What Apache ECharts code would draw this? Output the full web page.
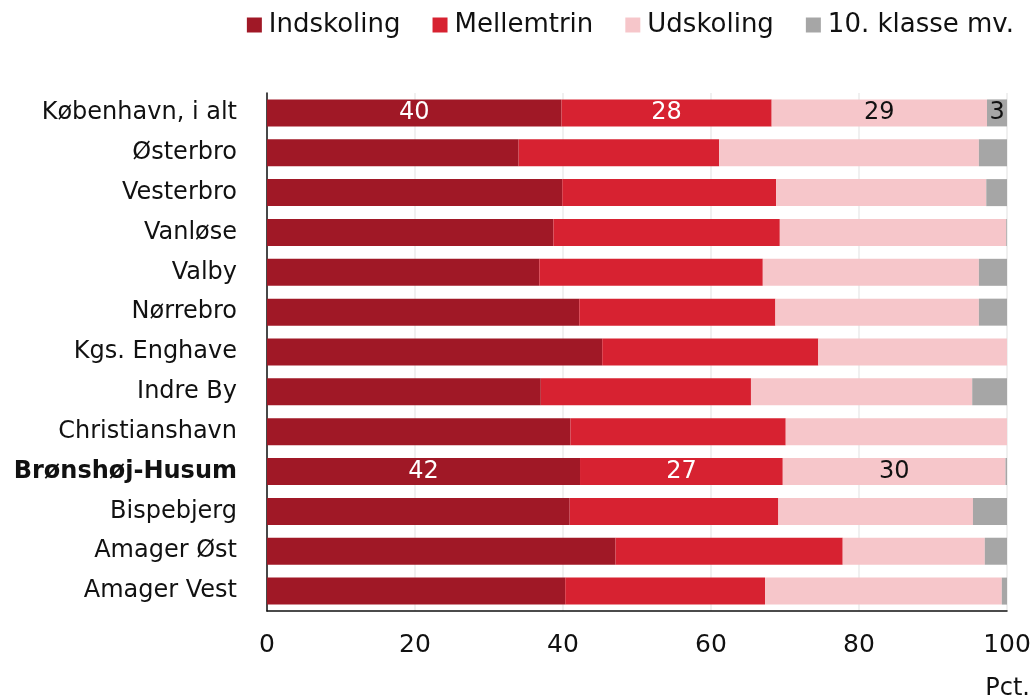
<!DOCTYPE html>
<html>
<head>
<meta charset="utf-8">
<script src="https://cdn.jsdelivr.net/npm/echarts@6/dist/echarts.min.js"></script>
<style>
  html, body { margin: 0; padding: 0; background: #fff; }
  #chart { width: 1036px; height: 700px; }
</style>
</head>
<body>
<div id="chart"></div>
<script>
// Districts, top to bottom
const districts = [
  'København, i alt', 'Østerbro', 'Vesterbro', 'Vanløse', 'Valby', 'Nørrebro',
  'Kgs. Enghave', 'Indre By', 'Christianshavn', 'Brønshøj-Husum', 'Bispebjerg',
  'Amager Øst', 'Amager Vest'
];

// Share of pupils by school stage (pct.)
const indskoling  = [39.8, 34.0, 39.9, 38.7, 36.8, 42.2, 45.3, 37.0, 41.0, 42.3, 40.9, 47.1, 40.3];
const mellemtrin  = [28.4, 27.1, 28.9, 30.6, 30.2, 26.5, 29.2, 28.4, 29.1, 27.4, 28.2, 30.7, 27.0];
const udskoling   = [29.1, 35.1, 28.4, 30.6, 29.2, 27.5, 25.5, 29.9, 29.9, 30.1, 26.3, 19.2, 32.0];
const klasse10    = [2.7, 3.8, 2.8, 0.1, 3.8, 3.8, 0.0, 4.7, 0.0, 0.2, 4.6, 3.0, 0.7];

const seriesNames = ['Indskoling', 'Mellemtrin', 'Udskoling', '10. klasse mv.'];
const xTicks = [0, 20, 40, 60, 80, 100];

// Rows whose values are printed on the bars
const labelledRows = ['København, i alt', 'Brønshøj-Husum'];
const highlighted = 'Brønshøj-Husum';

const FONT = '"DejaVu Sans", sans-serif';

function buildData(values, labelColor) {
  return values.map((v, i) => {
    const show = labelledRows.includes(districts[i]) && Math.round(v) > 0;
    return {
      value: v,
      label: {
        show: show,
        position: 'inside',
        color: labelColor,
        fontSize: 24,
        fontFamily: FONT,
        formatter: p => String(Math.round(p.value))
      }
    };
  });
}

const colors = ['#a01826', '#d72231', '#f6c6ca', '#a6a6a6'];
const labelColors = ['#ffffff', '#ffffff', '#111111', '#111111'];
const allValues = [indskoling, mellemtrin, udskoling, klasse10];

const chart = echarts.init(document.getElementById('chart'));
chart.setOption({
  animation: false,
  textStyle: { fontFamily: FONT },
  legend: {
    data: seriesNames,
    top: 7,
    right: 17,
    itemWidth: 15,
    itemHeight: 15,
    itemGap: 32,
    icon: 'rect',
    textStyle: { fontSize: 26, color: '#111', fontFamily: FONT, padding: [0, 0, 0, 2] }
  },
  grid: { left: 267, right: 29, top: 93, bottom: 89, containLabel: false },
  xAxis: {
    type: 'value',
    min: 0,
    max: 100,
    interval: 20,
    axisLine: { show: true, lineStyle: { color: '#111', width: 1.5 } },
    axisTick: { show: false },
    splitLine: { show: true, lineStyle: { color: '#ebebeb', width: 1.5 } },
    axisLabel: {
      fontSize: 25,
      color: '#111',
      margin: 22,
      fontFamily: FONT,
      formatter: v => xTicks.includes(v) ? String(v) : ''
    }
  },
  yAxis: {
    type: 'category',
    data: districts,
    inverse: true,
    axisLine: { show: true, lineStyle: { color: '#111', width: 1.5 } },
    axisTick: { show: false },
    axisLabel: {
      fontSize: 24,
      color: '#111',
      margin: 30,
      fontFamily: FONT,
      formatter: v => v === highlighted ? '{b|' + v + '}' : v,
      rich: { b: { fontSize: 24, fontWeight: 'bold', color: '#111', fontFamily: FONT } }
    }
  },
  graphic: [{
    type: 'text',
    right: 6,
    top: 677,
    style: { text: 'Pct.', fontSize: 24, fill: '#111', fontFamily: FONT }
  }],
  series: seriesNames.map((name, k) => ({
    name: name,
    type: 'bar',
    stack: 'total',
    barWidth: 27,
    itemStyle: { color: colors[k] },
    emphasis: { disabled: true },
    data: buildData(allValues[k], labelColors[k])
  }))
});
</script>
</body>
</html>
